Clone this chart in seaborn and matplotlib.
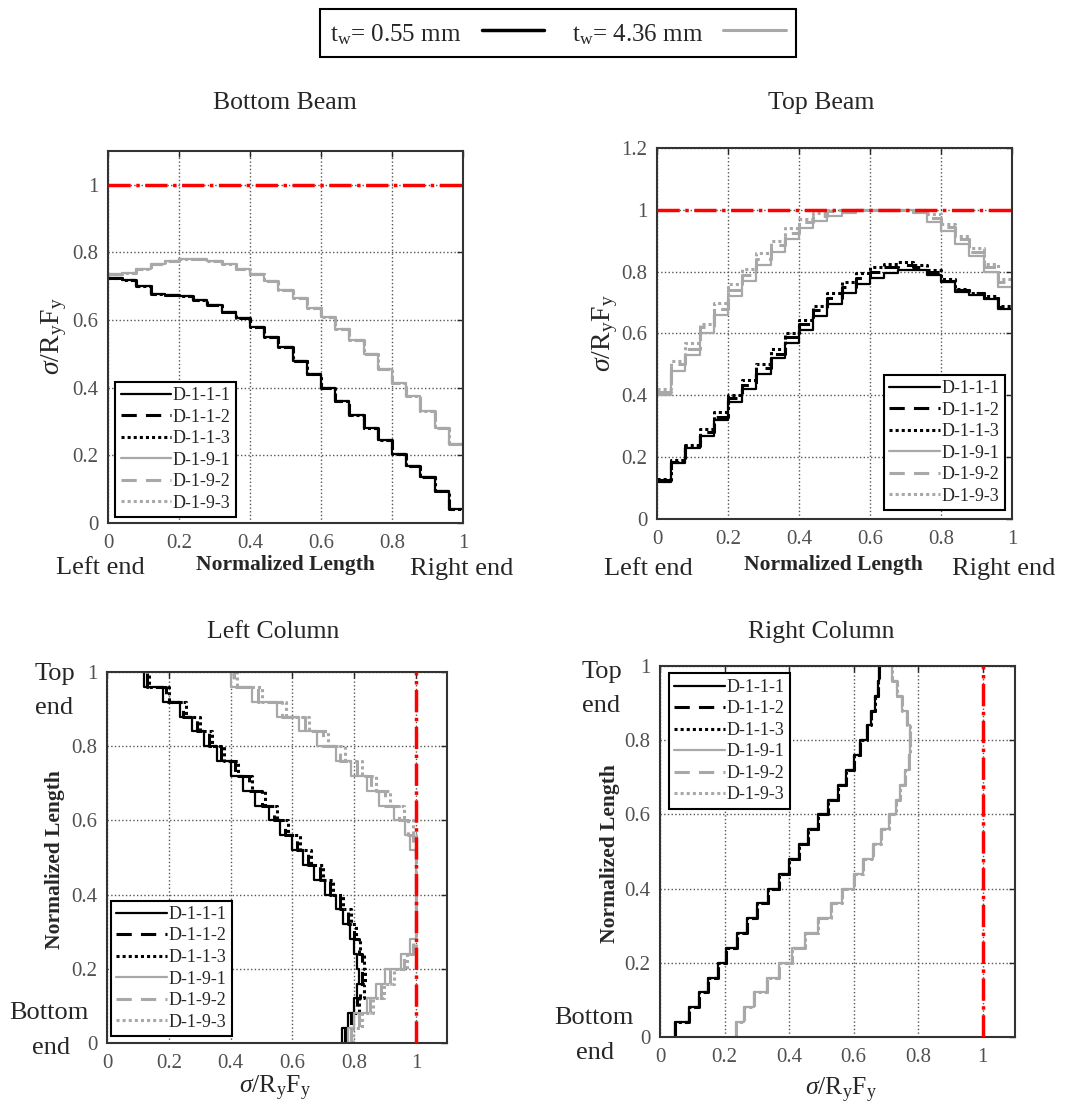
import numpy as np
import seaborn as sns
import matplotlib.pyplot as plt
from matplotlib.lines import Line2D
from matplotlib.ticker import FuncFormatter

W, H = 1086, 1115

# normalized length grid (step ends)
pos = np.round(np.linspace(0, 1, 26), 2)

# Bottom Beam (value on each step, along the length)
bb_055 = [0.725, 0.72, 0.70, 0.678, 0.675, 0.67, 0.66, 0.645, 0.625, 0.605, 0.58, 0.55, 0.52,
          0.48, 0.44, 0.40, 0.36, 0.32, 0.28, 0.245, 0.205, 0.17, 0.135, 0.095, 0.04, 0.04]
bb_436 = [0.735, 0.74, 0.75, 0.765, 0.775, 0.78, 0.78, 0.775, 0.765, 0.75, 0.735, 0.715, 0.69,
          0.665, 0.635, 0.61, 0.575, 0.54, 0.50, 0.455, 0.415, 0.375, 0.33, 0.28, 0.235, 0.235]

# Top Beam
tb_111 = [0.12, 0.18, 0.23, 0.27, 0.32, 0.38, 0.42, 0.47, 0.52, 0.57, 0.61, 0.655, 0.695,
          0.73, 0.76, 0.78, 0.795, 0.805, 0.805, 0.79, 0.765, 0.735, 0.725, 0.71, 0.68, 0.675]
tb_112 = [0.125, 0.185, 0.235, 0.28, 0.33, 0.39, 0.435, 0.49, 0.535, 0.59, 0.63, 0.675, 0.715,
          0.75, 0.78, 0.80, 0.815, 0.82, 0.815, 0.80, 0.77, 0.74, 0.73, 0.715, 0.685, 0.68]
tb_113 = [0.13, 0.19, 0.24, 0.29, 0.345, 0.40, 0.45, 0.50, 0.55, 0.60, 0.645, 0.69, 0.73,
          0.765, 0.795, 0.815, 0.825, 0.83, 0.82, 0.805, 0.775, 0.745, 0.73, 0.72, 0.69, 0.68]
tb_191 = [0.40, 0.48, 0.53, 0.60, 0.66, 0.72, 0.77, 0.82, 0.865, 0.905, 0.94, 0.965, 0.98,
          0.99, 1.0, 1.0, 1.0, 1.0, 0.99, 0.96, 0.93, 0.89, 0.85, 0.80, 0.75, 0.745]
tb_192 = [0.41, 0.50, 0.55, 0.62, 0.68, 0.74, 0.79, 0.84, 0.885, 0.925, 0.96, 0.98, 0.995,
          1.0, 1.0, 1.0, 1.0, 1.0, 1.0, 0.975, 0.945, 0.905, 0.865, 0.815, 0.765, 0.76]
tb_193 = [0.42, 0.51, 0.57, 0.63, 0.70, 0.76, 0.81, 0.86, 0.90, 0.94, 0.97, 0.99, 1.0,
          1.0, 1.0, 1.0, 1.0, 1.0, 1.0, 0.985, 0.955, 0.915, 0.875, 0.825, 0.775, 0.77]

# Left Column (value on each step, bottom to top)
lc_111 = [0.76, 0.78, 0.80, 0.81, 0.815, 0.81, 0.80, 0.785, 0.765, 0.74, 0.705, 0.67, 0.635,
          0.60, 0.56, 0.525, 0.48, 0.44, 0.40, 0.355, 0.315, 0.275, 0.235, 0.18, 0.12, 0.12]
lc_112 = [0.77, 0.79, 0.81, 0.82, 0.825, 0.825, 0.815, 0.80, 0.78, 0.755, 0.72, 0.69, 0.65,
          0.615, 0.575, 0.54, 0.50, 0.46, 0.415, 0.37, 0.33, 0.29, 0.245, 0.19, 0.13, 0.13]
lc_113 = [0.775, 0.795, 0.815, 0.83, 0.835, 0.83, 0.82, 0.805, 0.79, 0.765, 0.73, 0.70, 0.66,
          0.625, 0.585, 0.55, 0.51, 0.47, 0.425, 0.38, 0.34, 0.30, 0.255, 0.20, 0.135, 0.135]
lc_191 = [0.78, 0.80, 0.84, 0.87, 0.90, 0.95, 0.98, 1.0, 1.0, 1.0, 1.0, 1.0, 1.0,
          0.98, 0.965, 0.93, 0.88, 0.84, 0.79, 0.74, 0.68, 0.62, 0.55, 0.47, 0.40, 0.40]
lc_192 = [0.79, 0.815, 0.85, 0.885, 0.915, 0.96, 0.99, 1.0, 1.0, 1.0, 1.0, 1.0, 1.0,
          0.99, 0.975, 0.945, 0.90, 0.855, 0.81, 0.755, 0.70, 0.64, 0.565, 0.49, 0.41, 0.41]
lc_193 = [0.795, 0.825, 0.86, 0.895, 0.93, 0.97, 1.0, 1.0, 1.0, 1.0, 1.0, 1.0, 1.0,
          1.0, 0.99, 0.96, 0.915, 0.87, 0.825, 0.77, 0.715, 0.655, 0.58, 0.50, 0.42, 0.42]

# Right Column
rc_055 = [0.045, 0.09, 0.12, 0.15, 0.18, 0.205, 0.24, 0.27, 0.30, 0.335, 0.37, 0.40, 0.43,
          0.46, 0.49, 0.52, 0.55, 0.575, 0.60, 0.62, 0.64, 0.655, 0.665, 0.675, 0.68, 0.68]
rc_436 = [0.235, 0.26, 0.29, 0.33, 0.37, 0.41, 0.45, 0.49, 0.53, 0.565, 0.60, 0.63, 0.66,
          0.685, 0.71, 0.73, 0.745, 0.76, 0.77, 0.775, 0.775, 0.765, 0.75, 0.735, 0.72, 0.72]

names = ['D-1-1-1', 'D-1-1-2', 'D-1-1-3', 'D-1-9-1', 'D-1-9-2', 'D-1-9-3']
panels = {
    'Bottom Beam': [bb_055, bb_055, bb_055, bb_436, bb_436, bb_436],
    'Top Beam': [tb_111, tb_112, tb_113, tb_191, tb_192, tb_193],
    'Left Column': [lc_111, lc_112, lc_113, lc_191, lc_192, lc_193],
    'Right Column': [rc_055, rc_055, rc_055, rc_436, rc_436, rc_436],
}

gray = '#a8a8a8'
styles = [
    dict(color='black', linestyle='-', linewidth=1.6),
    dict(color='black', linestyle=(0, (5, 3)), linewidth=2.2),
    dict(color='black', linestyle=(0, (1, 1)), linewidth=2.2),
    dict(color=gray, linestyle='-', linewidth=1.6),
    dict(color=gray, linestyle=(0, (5, 3)), linewidth=2.2),
    dict(color=gray, linestyle=(0, (1, 1)), linewidth=2.2),
]

sns.set_theme(style='white')
plt.rcParams['font.family'] = ['Liberation Serif', 'DejaVu Serif']
plt.rcParams['mathtext.fontset'] = 'custom'
plt.rcParams['mathtext.rm'] = 'Liberation Serif'
plt.rcParams['mathtext.it'] = 'Liberation Serif:italic'

fig = plt.figure(figsize=(W / 100, H / 100), dpi=100)


def fx(p):
    return p / W


def fy(p):
    return 1 - p / H


# axes boxes in pixels: left, top, right, bottom
boxes = {
    'Bottom Beam': (108, 151, 463, 523),
    'Top Beam': (657, 148, 1012, 519),
    'Left Column': (107, 672, 447, 1043),
    'Right Column': (660, 666, 1015, 1037),
}
legend_loc = {
    'Bottom Beam': ('lower left', (0.02, 0.016)),
    'Top Beam': ('lower right', (0.98, 0.024)),
    'Left Column': ('lower left', (0.012, 0.019)),
    'Right Column': ('upper left', (0.025, 0.98)),
}
titles = {'Bottom Beam': (285, 103), 'Top Beam': (821, 103),
          'Left Column': (273, 632), 'Right Column': (821, 632)}

sigma_lab = r'$\sigma$/R$_\mathrm{y}$F$_\mathrm{y}$'
fmt = FuncFormatter(lambda v, p: '%g' % round(v, 2))

axes = {}
for name, series in panels.items():
    l, t, r, b = boxes[name]
    ax = fig.add_axes([fx(l), fy(b), (r - l) / W, (b - t) / H])
    axes[name] = ax
    vertical = 'Column' in name
    for lab, vals, st in zip(names, series, styles):
        if vertical:
            sns.lineplot(x=vals, y=pos, ax=ax, sort=False, estimator=None,
                         drawstyle='steps-pre', label=lab, **st)
        else:
            sns.lineplot(x=pos, y=vals, ax=ax, sort=False, estimator=None,
                         drawstyle='steps-post', label=lab, **st)
    if vertical:
        ax.axvline(1.0, color='red', linestyle='-.', linewidth=2.5, zorder=5)
        ax.set_xlim(0, 1.1)
        ax.set_ylim(0, 1)
        ax.set_xticks([0, 0.2, 0.4, 0.6, 0.8, 1])
        ax.set_yticks([0, 0.2, 0.4, 0.6, 0.8, 1])
    else:
        ax.axhline(1.0, color='red', linestyle='-.', linewidth=2.5, zorder=5)
        ax.set_xlim(0, 1)
        ax.set_ylim(0, 1.1 if name == 'Bottom Beam' else 1.2)
        ax.set_xticks([0, 0.2, 0.4, 0.6, 0.8, 1])
        ax.set_yticks([0, 0.2, 0.4, 0.6, 0.8, 1] + ([] if name == 'Bottom Beam' else [1.2]))
    ax.xaxis.set_major_formatter(fmt)
    ax.yaxis.set_major_formatter(fmt)
    ax.grid(True, linestyle=':', color='#555555', linewidth=1)
    ax.tick_params(direction='in', top=True, right=True, length=4, width=1,
                   labelsize=15, labelcolor='#505050')
    ax.tick_params(axis='x', pad=8)
    ax.tick_params(axis='y', pad=7)
    for sp in ax.spines.values():
        sp.set_color('#333333')
        sp.set_linewidth(1.5)
    ax.set_xlabel('')
    ax.set_ylabel('')

    loc, anchor = legend_loc[name]
    leg = ax.legend(loc=loc, bbox_to_anchor=anchor, borderaxespad=0, fontsize=13,
                    handlelength=2.8, handletextpad=0.1, labelspacing=0.25,
                    borderpad=0.3, fancybox=False, framealpha=1, edgecolor='black')
    leg.get_frame().set_linewidth(1.5)

    tx, ty = titles[name]
    fig.text(fx(tx), fy(ty), name, ha='center', va='center', fontsize=18.5)

# axis labels and end markers
bold = dict(fontsize=15.5, fontweight='bold', ha='center', va='center')
fig.text(fx(285), fy(565), 'Normalized Length', **bold)
fig.text(fx(833), fy(565), 'Normalized Length', **bold)
fig.text(fx(55), fy(860), 'Normalized Length', rotation=90, **bold)
fig.text(fx(610), fy(854), 'Normalized Length', rotation=90, **bold)

fig.text(fx(54), fy(336), sigma_lab, rotation=90, fontsize=20, ha='center', va='center')
fig.text(fx(605), fy(333), sigma_lab, rotation=90, fontsize=20, ha='center', va='center')
fig.text(fx(275), fy(1088), sigma_lab, fontsize=18.5, ha='center', va='center')
fig.text(fx(841), fy(1090), sigma_lab, fontsize=18.5, ha='center', va='center')

end = dict(fontsize=19, ha='center', va='center')
base = dict(fontsize=19, ha='center', va='baseline')
fig.text(fx(100), fy(574), 'Left end', **base)
fig.text(fx(462), fy(575), 'Right end', **base)
fig.text(fx(648), fy(575), 'Left end', **base)
fig.text(fx(1004), fy(575), 'Right end', **base)
fig.text(fx(55), fy(674), 'Top', **end)
fig.text(fx(54), fy(708), 'end', **end)
fig.text(fx(49), fy(1013), 'Bottom', **end)
fig.text(fx(51), fy(1048), 'end', **end)
fig.text(fx(602), fy(672), 'Top', **end)
fig.text(fx(601), fy(706), 'end', **end)
fig.text(fx(594), fy(1018), 'Bottom', **end)
fig.text(fx(595), fy(1053), 'end', **end)

# thickness legend on top
handles = [Line2D([], [], color='black', linewidth=2.5),
           Line2D([], [], color=gray, linewidth=2.2)]
top_leg = fig.legend(handles=handles,
                     labels=[r'$\mathrm{t_w}$= 0.55 mm', r'$\mathrm{t_w}$= 4.36 mm'],
                     loc='center', bbox_to_anchor=(fx(558), fy(33)), ncol=2,
                     markerfirst=False, fontsize=18, handlelength=2.5, handleheight=1.3,
                     columnspacing=1.1, borderpad=0.4, fancybox=False,
                     framealpha=1, edgecolor='black')
top_leg.get_frame().set_linewidth(1.5)

fig.savefig('out.png', dpi=100)
